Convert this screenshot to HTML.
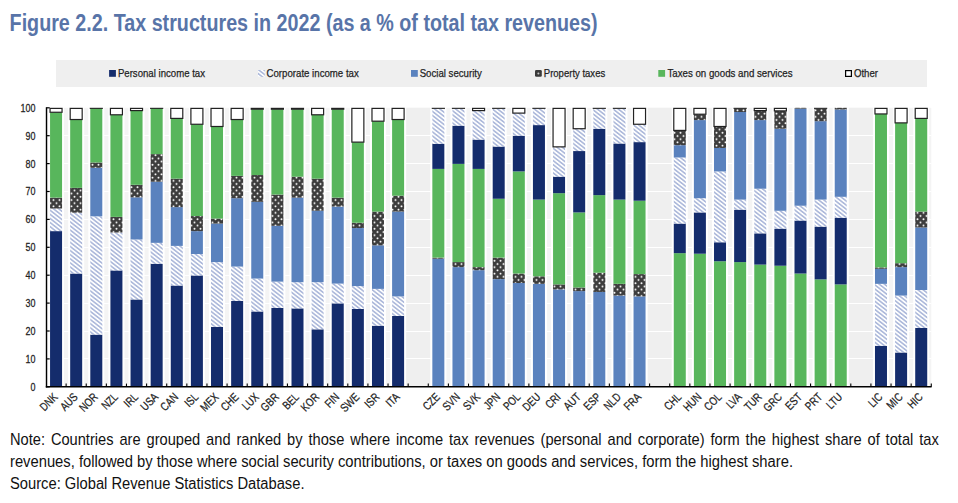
<!DOCTYPE html><html><head><meta charset="utf-8"><style>html,body{margin:0;padding:0;background:#fff;width:958px;height:503px;overflow:hidden}svg{display:block}</style></head><body>
<svg width="958" height="503" viewBox="0 0 958 503" font-family="'Liberation Sans', sans-serif">
<defs>
<pattern id="hatch" patternUnits="userSpaceOnUse" width="3.23" height="3.23" patternTransform="rotate(-52)"><rect width="3.23" height="3.23" fill="#fff"/><rect width="1.65" height="3.23" fill="#aebadb"/></pattern>
<pattern id="dots" patternUnits="userSpaceOnUse" x="1" y="3.2" width="6" height="6.4"><rect width="6" height="6.4" fill="#3d3d3d"/><circle cx="1.5" cy="1.6" r="1.0" fill="#fff"/><circle cx="4.5" cy="4.8" r="1.0" fill="#fff"/></pattern>
</defs>
<text x="9.6" y="31" font-size="24.6" font-weight="bold" fill="#5874a8" textLength="588" lengthAdjust="spacingAndGlyphs">Figure 2.2. Tax structures in 2022 (as a % of total tax revenues)</text>
<rect x="56" y="60" width="871" height="27" fill="#efefef"/>
<rect x="109.1" y="70" width="6.8" height="6.8" fill="#142c6c"/>
<text x="117.9" y="76.6" font-size="11.8" fill="#222" stroke="#222" stroke-width="0.25" textLength="87.1" lengthAdjust="spacingAndGlyphs">Personal income tax</text>
<rect x="258.0" y="70" width="6.8" height="6.8" fill="url(#hatch)"/>
<text x="266.5" y="76.6" font-size="11.8" fill="#222" stroke="#222" stroke-width="0.25" textLength="92.3" lengthAdjust="spacingAndGlyphs">Corporate income tax</text>
<rect x="411.0" y="70" width="6.8" height="6.8" fill="#5a82be"/>
<text x="419.7" y="76.6" font-size="11.8" fill="#222" stroke="#222" stroke-width="0.25" textLength="62.1" lengthAdjust="spacingAndGlyphs">Social security</text>
<rect x="535.0" y="70" width="6.8" height="6.8" rx="1.3" fill="#3a3a3a"/><circle cx="538.4" cy="73.6" r="1" fill="#c8c8c8"/>
<text x="543.8" y="76.6" font-size="11.8" fill="#222" stroke="#222" stroke-width="0.25" textLength="61.4" lengthAdjust="spacingAndGlyphs">Property taxes</text>
<rect x="658.3" y="70" width="6.8" height="6.8" fill="#58b65c"/>
<text x="667.4" y="76.6" font-size="11.8" fill="#222" stroke="#222" stroke-width="0.25" textLength="125.2" lengthAdjust="spacingAndGlyphs">Taxes on goods and services</text>
<rect x="845.6" y="70.6" width="5.8" height="5.8" fill="#fff" stroke="#000" stroke-width="1.2"/>
<text x="853.9" y="76.6" font-size="11.8" fill="#222" stroke="#222" stroke-width="0.25" textLength="24.1" lengthAdjust="spacingAndGlyphs">Other</text>
<rect x="46.00" y="107.80" width="885.28" height="279.00" fill="#f4f4f4"/>
<rect x="406.16" y="107.80" width="24.12" height="279.00" fill="#efefef"/>
<rect x="647.60" y="107.80" width="24.12" height="279.00" fill="#efefef"/>
<rect x="848.80" y="107.80" width="24.12" height="279.00" fill="#efefef"/>
<line x1="46.00" x2="931.28" y1="358.50" y2="358.50" stroke="#fff" stroke-width="1"/>
<line x1="46.00" x2="931.28" y1="331.50" y2="331.50" stroke="#fff" stroke-width="1"/>
<line x1="46.00" x2="931.28" y1="303.50" y2="303.50" stroke="#fff" stroke-width="1"/>
<line x1="46.00" x2="931.28" y1="275.50" y2="275.50" stroke="#fff" stroke-width="1"/>
<line x1="46.00" x2="931.28" y1="247.50" y2="247.50" stroke="#fff" stroke-width="1"/>
<line x1="46.00" x2="931.28" y1="219.50" y2="219.50" stroke="#fff" stroke-width="1"/>
<line x1="46.00" x2="931.28" y1="191.50" y2="191.50" stroke="#fff" stroke-width="1"/>
<line x1="46.00" x2="931.28" y1="163.50" y2="163.50" stroke="#fff" stroke-width="1"/>
<line x1="46.00" x2="931.28" y1="135.50" y2="135.50" stroke="#fff" stroke-width="1"/>
<rect x="48.06" y="107.80" width="16.00" height="279.00" fill="#fff"/>
<rect x="68.18" y="107.80" width="16.00" height="279.00" fill="#fff"/>
<rect x="88.30" y="107.80" width="16.00" height="279.00" fill="#fff"/>
<rect x="108.42" y="107.80" width="16.00" height="279.00" fill="#fff"/>
<rect x="128.54" y="107.80" width="16.00" height="279.00" fill="#fff"/>
<rect x="148.66" y="107.80" width="16.00" height="279.00" fill="#fff"/>
<rect x="168.78" y="107.80" width="16.00" height="279.00" fill="#fff"/>
<rect x="188.90" y="107.80" width="16.00" height="279.00" fill="#fff"/>
<rect x="209.02" y="107.80" width="16.00" height="279.00" fill="#fff"/>
<rect x="229.14" y="107.80" width="16.00" height="279.00" fill="#fff"/>
<rect x="249.26" y="107.80" width="16.00" height="279.00" fill="#fff"/>
<rect x="269.38" y="107.80" width="16.00" height="279.00" fill="#fff"/>
<rect x="289.50" y="107.80" width="16.00" height="279.00" fill="#fff"/>
<rect x="309.62" y="107.80" width="16.00" height="279.00" fill="#fff"/>
<rect x="329.74" y="107.80" width="16.00" height="279.00" fill="#fff"/>
<rect x="349.86" y="107.80" width="16.00" height="279.00" fill="#fff"/>
<rect x="369.98" y="107.80" width="16.00" height="279.00" fill="#fff"/>
<rect x="390.10" y="107.80" width="16.00" height="279.00" fill="#fff"/>
<rect x="430.34" y="107.80" width="16.00" height="279.00" fill="#fff"/>
<rect x="450.46" y="107.80" width="16.00" height="279.00" fill="#fff"/>
<rect x="470.58" y="107.80" width="16.00" height="279.00" fill="#fff"/>
<rect x="490.70" y="107.80" width="16.00" height="279.00" fill="#fff"/>
<rect x="510.82" y="107.80" width="16.00" height="279.00" fill="#fff"/>
<rect x="530.94" y="107.80" width="16.00" height="279.00" fill="#fff"/>
<rect x="551.06" y="107.80" width="16.00" height="279.00" fill="#fff"/>
<rect x="571.18" y="107.80" width="16.00" height="279.00" fill="#fff"/>
<rect x="591.30" y="107.80" width="16.00" height="279.00" fill="#fff"/>
<rect x="611.42" y="107.80" width="16.00" height="279.00" fill="#fff"/>
<rect x="631.54" y="107.80" width="16.00" height="279.00" fill="#fff"/>
<rect x="671.78" y="107.80" width="16.00" height="279.00" fill="#fff"/>
<rect x="691.90" y="107.80" width="16.00" height="279.00" fill="#fff"/>
<rect x="712.02" y="107.80" width="16.00" height="279.00" fill="#fff"/>
<rect x="732.14" y="107.80" width="16.00" height="279.00" fill="#fff"/>
<rect x="752.26" y="107.80" width="16.00" height="279.00" fill="#fff"/>
<rect x="772.38" y="107.80" width="16.00" height="279.00" fill="#fff"/>
<rect x="792.50" y="107.80" width="16.00" height="279.00" fill="#fff"/>
<rect x="812.62" y="107.80" width="16.00" height="279.00" fill="#fff"/>
<rect x="832.74" y="107.80" width="16.00" height="279.00" fill="#fff"/>
<rect x="872.98" y="107.80" width="16.00" height="279.00" fill="#fff"/>
<rect x="893.10" y="107.80" width="16.00" height="279.00" fill="#fff"/>
<rect x="913.22" y="107.80" width="16.00" height="279.00" fill="#fff"/>
<rect x="50.06" y="231.12" width="12.00" height="155.68" fill="#142c6c"/>
<rect x="50.06" y="208.52" width="12.00" height="22.60" fill="url(#hatch)"/>
<rect x="50.06" y="197.64" width="12.00" height="10.88" fill="url(#dots)"/>
<rect x="50.06" y="112.26" width="12.00" height="85.37" fill="#58b65c"/>
<rect x="50.06" y="108.40" width="12.00" height="3.86" fill="#fff" stroke="#222" stroke-width="1.2"/>
<rect x="70.18" y="273.53" width="12.00" height="113.27" fill="#142c6c"/>
<rect x="70.18" y="212.70" width="12.00" height="60.82" fill="url(#hatch)"/>
<rect x="70.18" y="187.87" width="12.00" height="24.83" fill="url(#dots)"/>
<rect x="70.18" y="119.52" width="12.00" height="68.36" fill="#58b65c"/>
<rect x="70.18" y="108.40" width="12.00" height="11.12" fill="#fff" stroke="#222" stroke-width="1.2"/>
<rect x="90.30" y="334.63" width="12.00" height="52.17" fill="#142c6c"/>
<rect x="90.30" y="216.33" width="12.00" height="118.30" fill="url(#hatch)"/>
<rect x="90.30" y="167.78" width="12.00" height="48.55" fill="#5a82be"/>
<rect x="90.30" y="162.48" width="12.00" height="5.30" fill="url(#dots)"/>
<rect x="90.30" y="108.22" width="12.00" height="54.27" fill="#58b65c"/>
<rect x="89.70" y="107.80" width="13.20" height="1.1" fill="#222"/>
<rect x="110.42" y="270.46" width="12.00" height="116.34" fill="#142c6c"/>
<rect x="110.42" y="232.51" width="12.00" height="37.94" fill="url(#hatch)"/>
<rect x="110.42" y="216.89" width="12.00" height="15.62" fill="url(#dots)"/>
<rect x="110.42" y="114.78" width="12.00" height="102.11" fill="#58b65c"/>
<rect x="110.42" y="108.40" width="12.00" height="6.38" fill="#fff" stroke="#222" stroke-width="1.2"/>
<rect x="130.54" y="299.47" width="12.00" height="87.33" fill="#142c6c"/>
<rect x="130.54" y="239.49" width="12.00" height="59.98" fill="url(#hatch)"/>
<rect x="130.54" y="197.36" width="12.00" height="42.13" fill="#5a82be"/>
<rect x="130.54" y="184.80" width="12.00" height="12.55" fill="url(#dots)"/>
<rect x="130.54" y="110.59" width="12.00" height="74.21" fill="#58b65c"/>
<rect x="130.54" y="108.40" width="12.00" height="2.19" fill="#fff" stroke="#222" stroke-width="1.2"/>
<rect x="150.66" y="263.76" width="12.00" height="123.04" fill="#142c6c"/>
<rect x="150.66" y="242.84" width="12.00" height="20.93" fill="url(#hatch)"/>
<rect x="150.66" y="181.74" width="12.00" height="61.10" fill="#5a82be"/>
<rect x="150.66" y="154.11" width="12.00" height="27.62" fill="url(#dots)"/>
<rect x="150.66" y="108.22" width="12.00" height="45.90" fill="#58b65c"/>
<rect x="150.06" y="107.80" width="13.20" height="1.1" fill="#222"/>
<rect x="170.78" y="285.52" width="12.00" height="101.28" fill="#142c6c"/>
<rect x="170.78" y="245.91" width="12.00" height="39.62" fill="url(#hatch)"/>
<rect x="170.78" y="207.12" width="12.00" height="38.78" fill="#5a82be"/>
<rect x="170.78" y="178.67" width="12.00" height="28.46" fill="url(#dots)"/>
<rect x="170.78" y="118.40" width="12.00" height="60.26" fill="#58b65c"/>
<rect x="170.78" y="108.40" width="12.00" height="10.00" fill="#fff" stroke="#222" stroke-width="1.2"/>
<rect x="190.90" y="275.48" width="12.00" height="111.32" fill="#142c6c"/>
<rect x="190.90" y="254.00" width="12.00" height="21.48" fill="url(#hatch)"/>
<rect x="190.90" y="231.12" width="12.00" height="22.88" fill="#5a82be"/>
<rect x="190.90" y="216.05" width="12.00" height="15.07" fill="url(#dots)"/>
<rect x="190.90" y="124.26" width="12.00" height="91.79" fill="#58b65c"/>
<rect x="190.90" y="108.40" width="12.00" height="15.86" fill="#fff" stroke="#222" stroke-width="1.2"/>
<rect x="211.02" y="326.81" width="12.00" height="59.98" fill="#142c6c"/>
<rect x="211.02" y="262.09" width="12.00" height="64.73" fill="url(#hatch)"/>
<rect x="211.02" y="223.59" width="12.00" height="38.50" fill="#5a82be"/>
<rect x="211.02" y="218.56" width="12.00" height="5.02" fill="url(#dots)"/>
<rect x="211.02" y="126.49" width="12.00" height="92.07" fill="#58b65c"/>
<rect x="211.02" y="108.40" width="12.00" height="18.09" fill="#fff" stroke="#222" stroke-width="1.2"/>
<rect x="231.14" y="300.87" width="12.00" height="85.93" fill="#142c6c"/>
<rect x="231.14" y="266.55" width="12.00" height="34.32" fill="url(#hatch)"/>
<rect x="231.14" y="198.20" width="12.00" height="68.35" fill="#5a82be"/>
<rect x="231.14" y="175.88" width="12.00" height="22.32" fill="url(#dots)"/>
<rect x="231.14" y="119.52" width="12.00" height="56.36" fill="#58b65c"/>
<rect x="231.14" y="108.40" width="12.00" height="11.12" fill="#fff" stroke="#222" stroke-width="1.2"/>
<rect x="251.26" y="311.47" width="12.00" height="75.33" fill="#142c6c"/>
<rect x="251.26" y="278.55" width="12.00" height="32.92" fill="url(#hatch)"/>
<rect x="251.26" y="201.82" width="12.00" height="76.72" fill="#5a82be"/>
<rect x="251.26" y="175.04" width="12.00" height="26.78" fill="url(#dots)"/>
<rect x="251.26" y="109.19" width="12.00" height="65.84" fill="#58b65c"/>
<rect x="251.26" y="108.40" width="12.00" height="0.80" fill="#fff" stroke="#222" stroke-width="1.2"/>
<rect x="271.38" y="307.84" width="12.00" height="78.96" fill="#142c6c"/>
<rect x="271.38" y="281.62" width="12.00" height="26.23" fill="url(#hatch)"/>
<rect x="271.38" y="225.82" width="12.00" height="55.80" fill="#5a82be"/>
<rect x="271.38" y="194.57" width="12.00" height="31.25" fill="url(#dots)"/>
<rect x="271.38" y="109.19" width="12.00" height="85.37" fill="#58b65c"/>
<rect x="271.38" y="108.40" width="12.00" height="0.80" fill="#fff" stroke="#222" stroke-width="1.2"/>
<rect x="291.50" y="308.40" width="12.00" height="78.40" fill="#142c6c"/>
<rect x="291.50" y="282.18" width="12.00" height="26.23" fill="url(#hatch)"/>
<rect x="291.50" y="197.64" width="12.00" height="84.54" fill="#5a82be"/>
<rect x="291.50" y="176.71" width="12.00" height="20.93" fill="url(#dots)"/>
<rect x="291.50" y="109.19" width="12.00" height="67.52" fill="#58b65c"/>
<rect x="291.50" y="108.40" width="12.00" height="0.80" fill="#fff" stroke="#222" stroke-width="1.2"/>
<rect x="311.62" y="329.33" width="12.00" height="57.47" fill="#142c6c"/>
<rect x="311.62" y="282.18" width="12.00" height="47.15" fill="url(#hatch)"/>
<rect x="311.62" y="210.75" width="12.00" height="71.42" fill="#5a82be"/>
<rect x="311.62" y="178.67" width="12.00" height="32.08" fill="url(#dots)"/>
<rect x="311.62" y="114.78" width="12.00" height="63.89" fill="#58b65c"/>
<rect x="311.62" y="108.40" width="12.00" height="6.38" fill="#fff" stroke="#222" stroke-width="1.2"/>
<rect x="331.74" y="303.38" width="12.00" height="83.42" fill="#142c6c"/>
<rect x="331.74" y="283.57" width="12.00" height="19.81" fill="url(#hatch)"/>
<rect x="331.74" y="206.57" width="12.00" height="77.00" fill="#5a82be"/>
<rect x="331.74" y="197.64" width="12.00" height="8.93" fill="url(#dots)"/>
<rect x="331.74" y="109.19" width="12.00" height="88.44" fill="#58b65c"/>
<rect x="331.74" y="108.40" width="12.00" height="0.80" fill="#fff" stroke="#222" stroke-width="1.2"/>
<rect x="351.86" y="308.96" width="12.00" height="77.84" fill="#142c6c"/>
<rect x="351.86" y="286.08" width="12.00" height="22.88" fill="url(#hatch)"/>
<rect x="351.86" y="228.05" width="12.00" height="58.03" fill="#5a82be"/>
<rect x="351.86" y="222.75" width="12.00" height="5.30" fill="url(#dots)"/>
<rect x="351.86" y="142.12" width="12.00" height="80.63" fill="#58b65c"/>
<rect x="351.86" y="108.40" width="12.00" height="33.72" fill="#fff" stroke="#222" stroke-width="1.2"/>
<rect x="371.98" y="325.70" width="12.00" height="61.10" fill="#142c6c"/>
<rect x="371.98" y="288.87" width="12.00" height="36.83" fill="url(#hatch)"/>
<rect x="371.98" y="245.35" width="12.00" height="43.52" fill="#5a82be"/>
<rect x="371.98" y="211.59" width="12.00" height="33.76" fill="url(#dots)"/>
<rect x="371.98" y="121.19" width="12.00" height="90.40" fill="#58b65c"/>
<rect x="371.98" y="108.40" width="12.00" height="12.79" fill="#fff" stroke="#222" stroke-width="1.2"/>
<rect x="392.10" y="315.93" width="12.00" height="70.87" fill="#142c6c"/>
<rect x="392.10" y="296.40" width="12.00" height="19.53" fill="url(#hatch)"/>
<rect x="392.10" y="211.59" width="12.00" height="84.82" fill="#5a82be"/>
<rect x="392.10" y="195.69" width="12.00" height="15.90" fill="url(#dots)"/>
<rect x="392.10" y="119.52" width="12.00" height="76.17" fill="#58b65c"/>
<rect x="392.10" y="108.40" width="12.00" height="11.12" fill="#fff" stroke="#222" stroke-width="1.2"/>
<rect x="432.34" y="258.74" width="12.00" height="128.06" fill="#5a82be"/>
<rect x="432.34" y="257.62" width="12.00" height="1.12" fill="url(#dots)"/>
<rect x="432.34" y="168.90" width="12.00" height="88.72" fill="#58b65c"/>
<rect x="432.34" y="143.79" width="12.00" height="25.11" fill="#142c6c"/>
<rect x="432.34" y="108.92" width="12.00" height="34.88" fill="url(#hatch)"/>
<rect x="431.74" y="107.80" width="13.20" height="1.1" fill="#222"/>
<rect x="452.46" y="267.11" width="12.00" height="119.69" fill="#5a82be"/>
<rect x="452.46" y="262.09" width="12.00" height="5.02" fill="url(#dots)"/>
<rect x="452.46" y="163.88" width="12.00" height="98.21" fill="#58b65c"/>
<rect x="452.46" y="125.66" width="12.00" height="38.22" fill="#142c6c"/>
<rect x="452.46" y="108.92" width="12.00" height="16.74" fill="url(#hatch)"/>
<rect x="451.86" y="107.80" width="13.20" height="1.1" fill="#222"/>
<rect x="472.58" y="270.18" width="12.00" height="116.62" fill="#5a82be"/>
<rect x="472.58" y="267.11" width="12.00" height="3.07" fill="url(#dots)"/>
<rect x="472.58" y="168.90" width="12.00" height="98.21" fill="#58b65c"/>
<rect x="472.58" y="139.61" width="12.00" height="29.30" fill="#142c6c"/>
<rect x="472.58" y="110.59" width="12.00" height="29.02" fill="url(#hatch)"/>
<rect x="472.58" y="108.40" width="12.00" height="2.19" fill="#fff" stroke="#222" stroke-width="1.2"/>
<rect x="492.70" y="279.11" width="12.00" height="107.69" fill="#5a82be"/>
<rect x="492.70" y="257.62" width="12.00" height="21.48" fill="url(#dots)"/>
<rect x="492.70" y="198.75" width="12.00" height="58.87" fill="#58b65c"/>
<rect x="492.70" y="146.58" width="12.00" height="52.17" fill="#142c6c"/>
<rect x="492.70" y="108.92" width="12.00" height="37.66" fill="url(#hatch)"/>
<rect x="492.10" y="107.80" width="13.20" height="1.1" fill="#222"/>
<rect x="512.82" y="283.01" width="12.00" height="103.79" fill="#5a82be"/>
<rect x="512.82" y="273.53" width="12.00" height="9.49" fill="url(#dots)"/>
<rect x="512.82" y="171.41" width="12.00" height="102.11" fill="#58b65c"/>
<rect x="512.82" y="135.70" width="12.00" height="35.71" fill="#142c6c"/>
<rect x="512.82" y="113.10" width="12.00" height="22.60" fill="url(#hatch)"/>
<rect x="512.82" y="108.40" width="12.00" height="4.70" fill="#fff" stroke="#222" stroke-width="1.2"/>
<rect x="532.94" y="283.85" width="12.00" height="102.95" fill="#5a82be"/>
<rect x="532.94" y="276.32" width="12.00" height="7.53" fill="url(#dots)"/>
<rect x="532.94" y="199.59" width="12.00" height="76.72" fill="#58b65c"/>
<rect x="532.94" y="125.10" width="12.00" height="74.49" fill="#142c6c"/>
<rect x="532.94" y="108.92" width="12.00" height="16.18" fill="url(#hatch)"/>
<rect x="532.34" y="107.80" width="13.20" height="1.1" fill="#222"/>
<rect x="553.06" y="289.43" width="12.00" height="97.37" fill="#5a82be"/>
<rect x="553.06" y="284.41" width="12.00" height="5.02" fill="url(#dots)"/>
<rect x="553.06" y="193.17" width="12.00" height="91.23" fill="#58b65c"/>
<rect x="553.06" y="176.71" width="12.00" height="16.46" fill="#142c6c"/>
<rect x="553.06" y="146.86" width="12.00" height="29.85" fill="url(#hatch)"/>
<rect x="553.06" y="108.40" width="12.00" height="38.46" fill="#fff" stroke="#222" stroke-width="1.2"/>
<rect x="573.18" y="291.10" width="12.00" height="95.70" fill="#5a82be"/>
<rect x="573.18" y="287.48" width="12.00" height="3.63" fill="url(#dots)"/>
<rect x="573.18" y="212.43" width="12.00" height="75.05" fill="#58b65c"/>
<rect x="573.18" y="151.05" width="12.00" height="61.38" fill="#142c6c"/>
<rect x="573.18" y="128.73" width="12.00" height="22.32" fill="url(#hatch)"/>
<rect x="573.18" y="108.40" width="12.00" height="20.32" fill="#fff" stroke="#222" stroke-width="1.2"/>
<rect x="593.30" y="291.94" width="12.00" height="94.86" fill="#5a82be"/>
<rect x="593.30" y="272.69" width="12.00" height="19.25" fill="url(#dots)"/>
<rect x="593.30" y="195.13" width="12.00" height="77.56" fill="#58b65c"/>
<rect x="593.30" y="128.73" width="12.00" height="66.40" fill="#142c6c"/>
<rect x="593.30" y="108.92" width="12.00" height="19.81" fill="url(#hatch)"/>
<rect x="592.70" y="107.80" width="13.20" height="1.1" fill="#222"/>
<rect x="613.42" y="295.57" width="12.00" height="91.23" fill="#5a82be"/>
<rect x="613.42" y="283.85" width="12.00" height="11.72" fill="url(#dots)"/>
<rect x="613.42" y="199.59" width="12.00" height="84.26" fill="#58b65c"/>
<rect x="613.42" y="143.51" width="12.00" height="56.08" fill="#142c6c"/>
<rect x="613.42" y="108.92" width="12.00" height="34.60" fill="url(#hatch)"/>
<rect x="612.82" y="107.80" width="13.20" height="1.1" fill="#222"/>
<rect x="633.54" y="296.40" width="12.00" height="90.40" fill="#5a82be"/>
<rect x="633.54" y="274.08" width="12.00" height="22.32" fill="url(#dots)"/>
<rect x="633.54" y="200.71" width="12.00" height="73.38" fill="#58b65c"/>
<rect x="633.54" y="142.12" width="12.00" height="58.59" fill="#142c6c"/>
<rect x="633.54" y="124.26" width="12.00" height="17.86" fill="url(#hatch)"/>
<rect x="633.54" y="108.40" width="12.00" height="15.86" fill="#fff" stroke="#222" stroke-width="1.2"/>
<rect x="673.78" y="253.16" width="12.00" height="133.64" fill="#58b65c"/>
<rect x="673.78" y="223.59" width="12.00" height="29.57" fill="#142c6c"/>
<rect x="673.78" y="157.46" width="12.00" height="66.12" fill="url(#hatch)"/>
<rect x="673.78" y="145.19" width="12.00" height="12.28" fill="#5a82be"/>
<rect x="673.78" y="130.40" width="12.00" height="14.79" fill="url(#dots)"/>
<rect x="673.78" y="108.40" width="12.00" height="22.00" fill="#fff" stroke="#222" stroke-width="1.2"/>
<rect x="693.90" y="253.72" width="12.00" height="133.08" fill="#58b65c"/>
<rect x="693.90" y="212.43" width="12.00" height="41.29" fill="#142c6c"/>
<rect x="693.90" y="198.20" width="12.00" height="14.23" fill="url(#hatch)"/>
<rect x="693.90" y="120.08" width="12.00" height="78.12" fill="#5a82be"/>
<rect x="693.90" y="114.22" width="12.00" height="5.86" fill="url(#dots)"/>
<rect x="693.90" y="108.40" width="12.00" height="5.82" fill="#fff" stroke="#222" stroke-width="1.2"/>
<rect x="714.02" y="261.25" width="12.00" height="125.55" fill="#58b65c"/>
<rect x="714.02" y="242.28" width="12.00" height="18.97" fill="#142c6c"/>
<rect x="714.02" y="171.41" width="12.00" height="70.87" fill="url(#hatch)"/>
<rect x="714.02" y="147.98" width="12.00" height="23.44" fill="#5a82be"/>
<rect x="714.02" y="126.49" width="12.00" height="21.48" fill="url(#dots)"/>
<rect x="714.02" y="108.40" width="12.00" height="18.09" fill="#fff" stroke="#222" stroke-width="1.2"/>
<rect x="734.14" y="262.09" width="12.00" height="124.71" fill="#58b65c"/>
<rect x="734.14" y="209.64" width="12.00" height="52.45" fill="#142c6c"/>
<rect x="734.14" y="199.59" width="12.00" height="10.04" fill="url(#hatch)"/>
<rect x="734.14" y="111.99" width="12.00" height="87.61" fill="#5a82be"/>
<rect x="734.14" y="108.78" width="12.00" height="3.21" fill="url(#dots)"/>
<rect x="733.54" y="107.80" width="13.20" height="1.1" fill="#222"/>
<rect x="754.26" y="264.60" width="12.00" height="122.20" fill="#58b65c"/>
<rect x="754.26" y="233.35" width="12.00" height="31.25" fill="#142c6c"/>
<rect x="754.26" y="188.71" width="12.00" height="44.64" fill="url(#hatch)"/>
<rect x="754.26" y="120.08" width="12.00" height="68.63" fill="#5a82be"/>
<rect x="754.26" y="110.59" width="12.00" height="9.49" fill="url(#dots)"/>
<rect x="754.26" y="108.40" width="12.00" height="2.19" fill="#fff" stroke="#222" stroke-width="1.2"/>
<rect x="774.38" y="265.71" width="12.00" height="121.09" fill="#58b65c"/>
<rect x="774.38" y="228.61" width="12.00" height="37.11" fill="#142c6c"/>
<rect x="774.38" y="210.75" width="12.00" height="17.86" fill="url(#hatch)"/>
<rect x="774.38" y="128.73" width="12.00" height="82.03" fill="#5a82be"/>
<rect x="774.38" y="110.87" width="12.00" height="17.86" fill="url(#dots)"/>
<rect x="774.38" y="108.40" width="12.00" height="2.47" fill="#fff" stroke="#222" stroke-width="1.2"/>
<rect x="794.50" y="273.53" width="12.00" height="113.27" fill="#58b65c"/>
<rect x="794.50" y="220.52" width="12.00" height="53.01" fill="#142c6c"/>
<rect x="794.50" y="205.73" width="12.00" height="14.79" fill="url(#hatch)"/>
<rect x="794.50" y="108.64" width="12.00" height="97.09" fill="#5a82be"/>
<rect x="794.50" y="107.80" width="12.00" height="0.84" fill="url(#dots)"/>
<rect x="814.62" y="279.38" width="12.00" height="107.42" fill="#58b65c"/>
<rect x="814.62" y="226.65" width="12.00" height="52.73" fill="#142c6c"/>
<rect x="814.62" y="199.59" width="12.00" height="27.06" fill="url(#hatch)"/>
<rect x="814.62" y="121.19" width="12.00" height="78.40" fill="#5a82be"/>
<rect x="814.62" y="108.92" width="12.00" height="12.28" fill="url(#dots)"/>
<rect x="814.02" y="107.80" width="13.20" height="1.1" fill="#222"/>
<rect x="834.74" y="284.41" width="12.00" height="102.39" fill="#58b65c"/>
<rect x="834.74" y="217.73" width="12.00" height="66.68" fill="#142c6c"/>
<rect x="834.74" y="196.80" width="12.00" height="20.92" fill="url(#hatch)"/>
<rect x="834.74" y="109.47" width="12.00" height="87.33" fill="#5a82be"/>
<rect x="834.74" y="107.80" width="12.00" height="1.67" fill="url(#dots)"/>
<rect x="874.98" y="345.79" width="12.00" height="41.01" fill="#142c6c"/>
<rect x="874.98" y="283.85" width="12.00" height="61.94" fill="url(#hatch)"/>
<rect x="874.98" y="268.78" width="12.00" height="15.07" fill="#5a82be"/>
<rect x="874.98" y="267.39" width="12.00" height="1.40" fill="url(#dots)"/>
<rect x="874.98" y="113.94" width="12.00" height="153.45" fill="#58b65c"/>
<rect x="874.98" y="108.40" width="12.00" height="5.54" fill="#fff" stroke="#222" stroke-width="1.2"/>
<rect x="895.10" y="352.48" width="12.00" height="34.32" fill="#142c6c"/>
<rect x="895.10" y="295.57" width="12.00" height="56.92" fill="url(#hatch)"/>
<rect x="895.10" y="267.11" width="12.00" height="28.46" fill="#5a82be"/>
<rect x="895.10" y="263.20" width="12.00" height="3.91" fill="url(#dots)"/>
<rect x="895.10" y="122.87" width="12.00" height="140.34" fill="#58b65c"/>
<rect x="895.10" y="108.40" width="12.00" height="14.47" fill="#fff" stroke="#222" stroke-width="1.2"/>
<rect x="915.22" y="327.93" width="12.00" height="58.87" fill="#142c6c"/>
<rect x="915.22" y="289.99" width="12.00" height="37.94" fill="url(#hatch)"/>
<rect x="915.22" y="227.49" width="12.00" height="62.50" fill="#5a82be"/>
<rect x="915.22" y="211.59" width="12.00" height="15.90" fill="url(#dots)"/>
<rect x="915.22" y="118.40" width="12.00" height="93.19" fill="#58b65c"/>
<rect x="915.22" y="108.40" width="12.00" height="10.00" fill="#fff" stroke="#222" stroke-width="1.2"/>
<line x1="46.5" x2="46.5" y1="107.30" y2="387.50" stroke="#000" stroke-width="1.4"/>
<line x1="45.8" x2="931.58" y1="386.80" y2="386.80" stroke="#000" stroke-width="1.4"/>
<line x1="46.5" x2="49.7" y1="386.80" y2="386.80" stroke="#000" stroke-width="1.2"/>
<text x="35.5" y="390.80" font-size="11.2" fill="#222" stroke="#222" stroke-width="0.25" text-anchor="end" transform="translate(35.5 0) scale(0.8 1) translate(-35.5 0)">0</text>
<line x1="46.5" x2="49.7" y1="358.90" y2="358.90" stroke="#000" stroke-width="1.2"/>
<text x="35.5" y="362.90" font-size="11.2" fill="#222" stroke="#222" stroke-width="0.25" text-anchor="end" transform="translate(35.5 0) scale(0.8 1) translate(-35.5 0)">10</text>
<line x1="46.5" x2="49.7" y1="331.00" y2="331.00" stroke="#000" stroke-width="1.2"/>
<text x="35.5" y="335.00" font-size="11.2" fill="#222" stroke="#222" stroke-width="0.25" text-anchor="end" transform="translate(35.5 0) scale(0.8 1) translate(-35.5 0)">20</text>
<line x1="46.5" x2="49.7" y1="303.10" y2="303.10" stroke="#000" stroke-width="1.2"/>
<text x="35.5" y="307.10" font-size="11.2" fill="#222" stroke="#222" stroke-width="0.25" text-anchor="end" transform="translate(35.5 0) scale(0.8 1) translate(-35.5 0)">30</text>
<line x1="46.5" x2="49.7" y1="275.20" y2="275.20" stroke="#000" stroke-width="1.2"/>
<text x="35.5" y="279.20" font-size="11.2" fill="#222" stroke="#222" stroke-width="0.25" text-anchor="end" transform="translate(35.5 0) scale(0.8 1) translate(-35.5 0)">40</text>
<line x1="46.5" x2="49.7" y1="247.30" y2="247.30" stroke="#000" stroke-width="1.2"/>
<text x="35.5" y="251.30" font-size="11.2" fill="#222" stroke="#222" stroke-width="0.25" text-anchor="end" transform="translate(35.5 0) scale(0.8 1) translate(-35.5 0)">50</text>
<line x1="46.5" x2="49.7" y1="219.40" y2="219.40" stroke="#000" stroke-width="1.2"/>
<text x="35.5" y="223.40" font-size="11.2" fill="#222" stroke="#222" stroke-width="0.25" text-anchor="end" transform="translate(35.5 0) scale(0.8 1) translate(-35.5 0)">60</text>
<line x1="46.5" x2="49.7" y1="191.50" y2="191.50" stroke="#000" stroke-width="1.2"/>
<text x="35.5" y="195.50" font-size="11.2" fill="#222" stroke="#222" stroke-width="0.25" text-anchor="end" transform="translate(35.5 0) scale(0.8 1) translate(-35.5 0)">70</text>
<line x1="46.5" x2="49.7" y1="163.60" y2="163.60" stroke="#000" stroke-width="1.2"/>
<text x="35.5" y="167.60" font-size="11.2" fill="#222" stroke="#222" stroke-width="0.25" text-anchor="end" transform="translate(35.5 0) scale(0.8 1) translate(-35.5 0)">80</text>
<line x1="46.5" x2="49.7" y1="135.70" y2="135.70" stroke="#000" stroke-width="1.2"/>
<text x="35.5" y="139.70" font-size="11.2" fill="#222" stroke="#222" stroke-width="0.25" text-anchor="end" transform="translate(35.5 0) scale(0.8 1) translate(-35.5 0)">90</text>
<line x1="46.5" x2="49.7" y1="107.80" y2="107.80" stroke="#000" stroke-width="1.2"/>
<text x="35.5" y="111.80" font-size="11.2" fill="#222" stroke="#222" stroke-width="0.25" text-anchor="end" transform="translate(35.5 0) scale(0.8 1) translate(-35.5 0)">100</text>
<line x1="66.12" x2="66.12" y1="386.80" y2="383.60" stroke="#000" stroke-width="1.1"/>
<line x1="86.24" x2="86.24" y1="386.80" y2="383.60" stroke="#000" stroke-width="1.1"/>
<line x1="106.36" x2="106.36" y1="386.80" y2="383.60" stroke="#000" stroke-width="1.1"/>
<line x1="126.48" x2="126.48" y1="386.80" y2="383.60" stroke="#000" stroke-width="1.1"/>
<line x1="146.60" x2="146.60" y1="386.80" y2="383.60" stroke="#000" stroke-width="1.1"/>
<line x1="166.72" x2="166.72" y1="386.80" y2="383.60" stroke="#000" stroke-width="1.1"/>
<line x1="186.84" x2="186.84" y1="386.80" y2="383.60" stroke="#000" stroke-width="1.1"/>
<line x1="206.96" x2="206.96" y1="386.80" y2="383.60" stroke="#000" stroke-width="1.1"/>
<line x1="227.08" x2="227.08" y1="386.80" y2="383.60" stroke="#000" stroke-width="1.1"/>
<line x1="247.20" x2="247.20" y1="386.80" y2="383.60" stroke="#000" stroke-width="1.1"/>
<line x1="267.32" x2="267.32" y1="386.80" y2="383.60" stroke="#000" stroke-width="1.1"/>
<line x1="287.44" x2="287.44" y1="386.80" y2="383.60" stroke="#000" stroke-width="1.1"/>
<line x1="307.56" x2="307.56" y1="386.80" y2="383.60" stroke="#000" stroke-width="1.1"/>
<line x1="327.68" x2="327.68" y1="386.80" y2="383.60" stroke="#000" stroke-width="1.1"/>
<line x1="347.80" x2="347.80" y1="386.80" y2="383.60" stroke="#000" stroke-width="1.1"/>
<line x1="367.92" x2="367.92" y1="386.80" y2="383.60" stroke="#000" stroke-width="1.1"/>
<line x1="388.04" x2="388.04" y1="386.80" y2="383.60" stroke="#000" stroke-width="1.1"/>
<line x1="408.16" x2="408.16" y1="386.80" y2="383.60" stroke="#000" stroke-width="1.1"/>
<line x1="428.28" x2="428.28" y1="386.80" y2="383.60" stroke="#000" stroke-width="1.1"/>
<line x1="448.40" x2="448.40" y1="386.80" y2="383.60" stroke="#000" stroke-width="1.1"/>
<line x1="468.52" x2="468.52" y1="386.80" y2="383.60" stroke="#000" stroke-width="1.1"/>
<line x1="488.64" x2="488.64" y1="386.80" y2="383.60" stroke="#000" stroke-width="1.1"/>
<line x1="508.76" x2="508.76" y1="386.80" y2="383.60" stroke="#000" stroke-width="1.1"/>
<line x1="528.88" x2="528.88" y1="386.80" y2="383.60" stroke="#000" stroke-width="1.1"/>
<line x1="549.00" x2="549.00" y1="386.80" y2="383.60" stroke="#000" stroke-width="1.1"/>
<line x1="569.12" x2="569.12" y1="386.80" y2="383.60" stroke="#000" stroke-width="1.1"/>
<line x1="589.24" x2="589.24" y1="386.80" y2="383.60" stroke="#000" stroke-width="1.1"/>
<line x1="609.36" x2="609.36" y1="386.80" y2="383.60" stroke="#000" stroke-width="1.1"/>
<line x1="629.48" x2="629.48" y1="386.80" y2="383.60" stroke="#000" stroke-width="1.1"/>
<line x1="649.60" x2="649.60" y1="386.80" y2="383.60" stroke="#000" stroke-width="1.1"/>
<line x1="669.72" x2="669.72" y1="386.80" y2="383.60" stroke="#000" stroke-width="1.1"/>
<line x1="689.84" x2="689.84" y1="386.80" y2="383.60" stroke="#000" stroke-width="1.1"/>
<line x1="709.96" x2="709.96" y1="386.80" y2="383.60" stroke="#000" stroke-width="1.1"/>
<line x1="730.08" x2="730.08" y1="386.80" y2="383.60" stroke="#000" stroke-width="1.1"/>
<line x1="750.20" x2="750.20" y1="386.80" y2="383.60" stroke="#000" stroke-width="1.1"/>
<line x1="770.32" x2="770.32" y1="386.80" y2="383.60" stroke="#000" stroke-width="1.1"/>
<line x1="790.44" x2="790.44" y1="386.80" y2="383.60" stroke="#000" stroke-width="1.1"/>
<line x1="810.56" x2="810.56" y1="386.80" y2="383.60" stroke="#000" stroke-width="1.1"/>
<line x1="830.68" x2="830.68" y1="386.80" y2="383.60" stroke="#000" stroke-width="1.1"/>
<line x1="850.80" x2="850.80" y1="386.80" y2="383.60" stroke="#000" stroke-width="1.1"/>
<line x1="870.92" x2="870.92" y1="386.80" y2="383.60" stroke="#000" stroke-width="1.1"/>
<line x1="891.04" x2="891.04" y1="386.80" y2="383.60" stroke="#000" stroke-width="1.1"/>
<line x1="911.16" x2="911.16" y1="386.80" y2="383.60" stroke="#000" stroke-width="1.1"/>
<line x1="931.28" x2="931.28" y1="386.80" y2="383.60" stroke="#000" stroke-width="1.1"/>
<text font-size="11.7" fill="#222" stroke="#222" stroke-width="0.25" text-anchor="end" transform="translate(58.36 397.8) rotate(-45) scale(0.8 1)">DNK</text>
<text font-size="11.7" fill="#222" stroke="#222" stroke-width="0.25" text-anchor="end" transform="translate(78.48 397.8) rotate(-45) scale(0.8 1)">AUS</text>
<text font-size="11.7" fill="#222" stroke="#222" stroke-width="0.25" text-anchor="end" transform="translate(98.60 397.8) rotate(-45) scale(0.8 1)">NOR</text>
<text font-size="11.7" fill="#222" stroke="#222" stroke-width="0.25" text-anchor="end" transform="translate(118.72 397.8) rotate(-45) scale(0.8 1)">NZL</text>
<text font-size="11.7" fill="#222" stroke="#222" stroke-width="0.25" text-anchor="end" transform="translate(138.84 397.8) rotate(-45) scale(0.8 1)">IRL</text>
<text font-size="11.7" fill="#222" stroke="#222" stroke-width="0.25" text-anchor="end" transform="translate(158.96 397.8) rotate(-45) scale(0.8 1)">USA</text>
<text font-size="11.7" fill="#222" stroke="#222" stroke-width="0.25" text-anchor="end" transform="translate(179.08 397.8) rotate(-45) scale(0.8 1)">CAN</text>
<text font-size="11.7" fill="#222" stroke="#222" stroke-width="0.25" text-anchor="end" transform="translate(199.20 397.8) rotate(-45) scale(0.8 1)">ISL</text>
<text font-size="11.7" fill="#222" stroke="#222" stroke-width="0.25" text-anchor="end" transform="translate(219.32 397.8) rotate(-45) scale(0.8 1)">MEX</text>
<text font-size="11.7" fill="#222" stroke="#222" stroke-width="0.25" text-anchor="end" transform="translate(239.44 397.8) rotate(-45) scale(0.8 1)">CHE</text>
<text font-size="11.7" fill="#222" stroke="#222" stroke-width="0.25" text-anchor="end" transform="translate(259.56 397.8) rotate(-45) scale(0.8 1)">LUX</text>
<text font-size="11.7" fill="#222" stroke="#222" stroke-width="0.25" text-anchor="end" transform="translate(279.68 397.8) rotate(-45) scale(0.8 1)">GBR</text>
<text font-size="11.7" fill="#222" stroke="#222" stroke-width="0.25" text-anchor="end" transform="translate(299.80 397.8) rotate(-45) scale(0.8 1)">BEL</text>
<text font-size="11.7" fill="#222" stroke="#222" stroke-width="0.25" text-anchor="end" transform="translate(319.92 397.8) rotate(-45) scale(0.8 1)">KOR</text>
<text font-size="11.7" fill="#222" stroke="#222" stroke-width="0.25" text-anchor="end" transform="translate(340.04 397.8) rotate(-45) scale(0.8 1)">FIN</text>
<text font-size="11.7" fill="#222" stroke="#222" stroke-width="0.25" text-anchor="end" transform="translate(360.16 397.8) rotate(-45) scale(0.8 1)">SWE</text>
<text font-size="11.7" fill="#222" stroke="#222" stroke-width="0.25" text-anchor="end" transform="translate(380.28 397.8) rotate(-45) scale(0.8 1)">ISR</text>
<text font-size="11.7" fill="#222" stroke="#222" stroke-width="0.25" text-anchor="end" transform="translate(400.40 397.8) rotate(-45) scale(0.8 1)">ITA</text>
<text font-size="11.7" fill="#222" stroke="#222" stroke-width="0.25" text-anchor="end" transform="translate(440.64 397.8) rotate(-45) scale(0.8 1)">CZE</text>
<text font-size="11.7" fill="#222" stroke="#222" stroke-width="0.25" text-anchor="end" transform="translate(460.76 397.8) rotate(-45) scale(0.8 1)">SVN</text>
<text font-size="11.7" fill="#222" stroke="#222" stroke-width="0.25" text-anchor="end" transform="translate(480.88 397.8) rotate(-45) scale(0.8 1)">SVK</text>
<text font-size="11.7" fill="#222" stroke="#222" stroke-width="0.25" text-anchor="end" transform="translate(501.00 397.8) rotate(-45) scale(0.8 1)">JPN</text>
<text font-size="11.7" fill="#222" stroke="#222" stroke-width="0.25" text-anchor="end" transform="translate(521.12 397.8) rotate(-45) scale(0.8 1)">POL</text>
<text font-size="11.7" fill="#222" stroke="#222" stroke-width="0.25" text-anchor="end" transform="translate(541.24 397.8) rotate(-45) scale(0.8 1)">DEU</text>
<text font-size="11.7" fill="#222" stroke="#222" stroke-width="0.25" text-anchor="end" transform="translate(561.36 397.8) rotate(-45) scale(0.8 1)">CRI</text>
<text font-size="11.7" fill="#222" stroke="#222" stroke-width="0.25" text-anchor="end" transform="translate(581.48 397.8) rotate(-45) scale(0.8 1)">AUT</text>
<text font-size="11.7" fill="#222" stroke="#222" stroke-width="0.25" text-anchor="end" transform="translate(601.60 397.8) rotate(-45) scale(0.8 1)">ESP</text>
<text font-size="11.7" fill="#222" stroke="#222" stroke-width="0.25" text-anchor="end" transform="translate(621.72 397.8) rotate(-45) scale(0.8 1)">NLD</text>
<text font-size="11.7" fill="#222" stroke="#222" stroke-width="0.25" text-anchor="end" transform="translate(641.84 397.8) rotate(-45) scale(0.8 1)">FRA</text>
<text font-size="11.7" fill="#222" stroke="#222" stroke-width="0.25" text-anchor="end" transform="translate(682.08 397.8) rotate(-45) scale(0.8 1)">CHL</text>
<text font-size="11.7" fill="#222" stroke="#222" stroke-width="0.25" text-anchor="end" transform="translate(702.20 397.8) rotate(-45) scale(0.8 1)">HUN</text>
<text font-size="11.7" fill="#222" stroke="#222" stroke-width="0.25" text-anchor="end" transform="translate(722.32 397.8) rotate(-45) scale(0.8 1)">COL</text>
<text font-size="11.7" fill="#222" stroke="#222" stroke-width="0.25" text-anchor="end" transform="translate(742.44 397.8) rotate(-45) scale(0.8 1)">LVA</text>
<text font-size="11.7" fill="#222" stroke="#222" stroke-width="0.25" text-anchor="end" transform="translate(762.56 397.8) rotate(-45) scale(0.8 1)">TUR</text>
<text font-size="11.7" fill="#222" stroke="#222" stroke-width="0.25" text-anchor="end" transform="translate(782.68 397.8) rotate(-45) scale(0.8 1)">GRC</text>
<text font-size="11.7" fill="#222" stroke="#222" stroke-width="0.25" text-anchor="end" transform="translate(802.80 397.8) rotate(-45) scale(0.8 1)">EST</text>
<text font-size="11.7" fill="#222" stroke="#222" stroke-width="0.25" text-anchor="end" transform="translate(822.92 397.8) rotate(-45) scale(0.8 1)">PRT</text>
<text font-size="11.7" fill="#222" stroke="#222" stroke-width="0.25" text-anchor="end" transform="translate(843.04 397.8) rotate(-45) scale(0.8 1)">LTU</text>
<text font-size="11.7" fill="#222" stroke="#222" stroke-width="0.25" text-anchor="end" transform="translate(883.28 397.8) rotate(-45) scale(0.8 1)">LIC</text>
<text font-size="11.7" fill="#222" stroke="#222" stroke-width="0.25" text-anchor="end" transform="translate(903.40 397.8) rotate(-45) scale(0.8 1)">MIC</text>
<text font-size="11.7" fill="#222" stroke="#222" stroke-width="0.25" text-anchor="end" transform="translate(923.52 397.8) rotate(-45) scale(0.8 1)">HIC</text>
<text x="0" y="444.8" font-size="16" fill="#111" word-spacing="2.02" transform="translate(10 0) scale(0.915 1)">Note: Countries are grouped and ranked by those where income tax revenues (personal and corporate) form the highest share of total tax</text>
<text x="10" y="466.8" font-size="16" fill="#111" textLength="783" lengthAdjust="spacingAndGlyphs">revenues, followed by those where social security contributions, or taxes on goods and services, form the highest share.</text>
<text x="10" y="488.6" font-size="16" fill="#111" textLength="294.5" lengthAdjust="spacingAndGlyphs">Source: Global Revenue Statistics Database.</text>
</svg></body></html>
